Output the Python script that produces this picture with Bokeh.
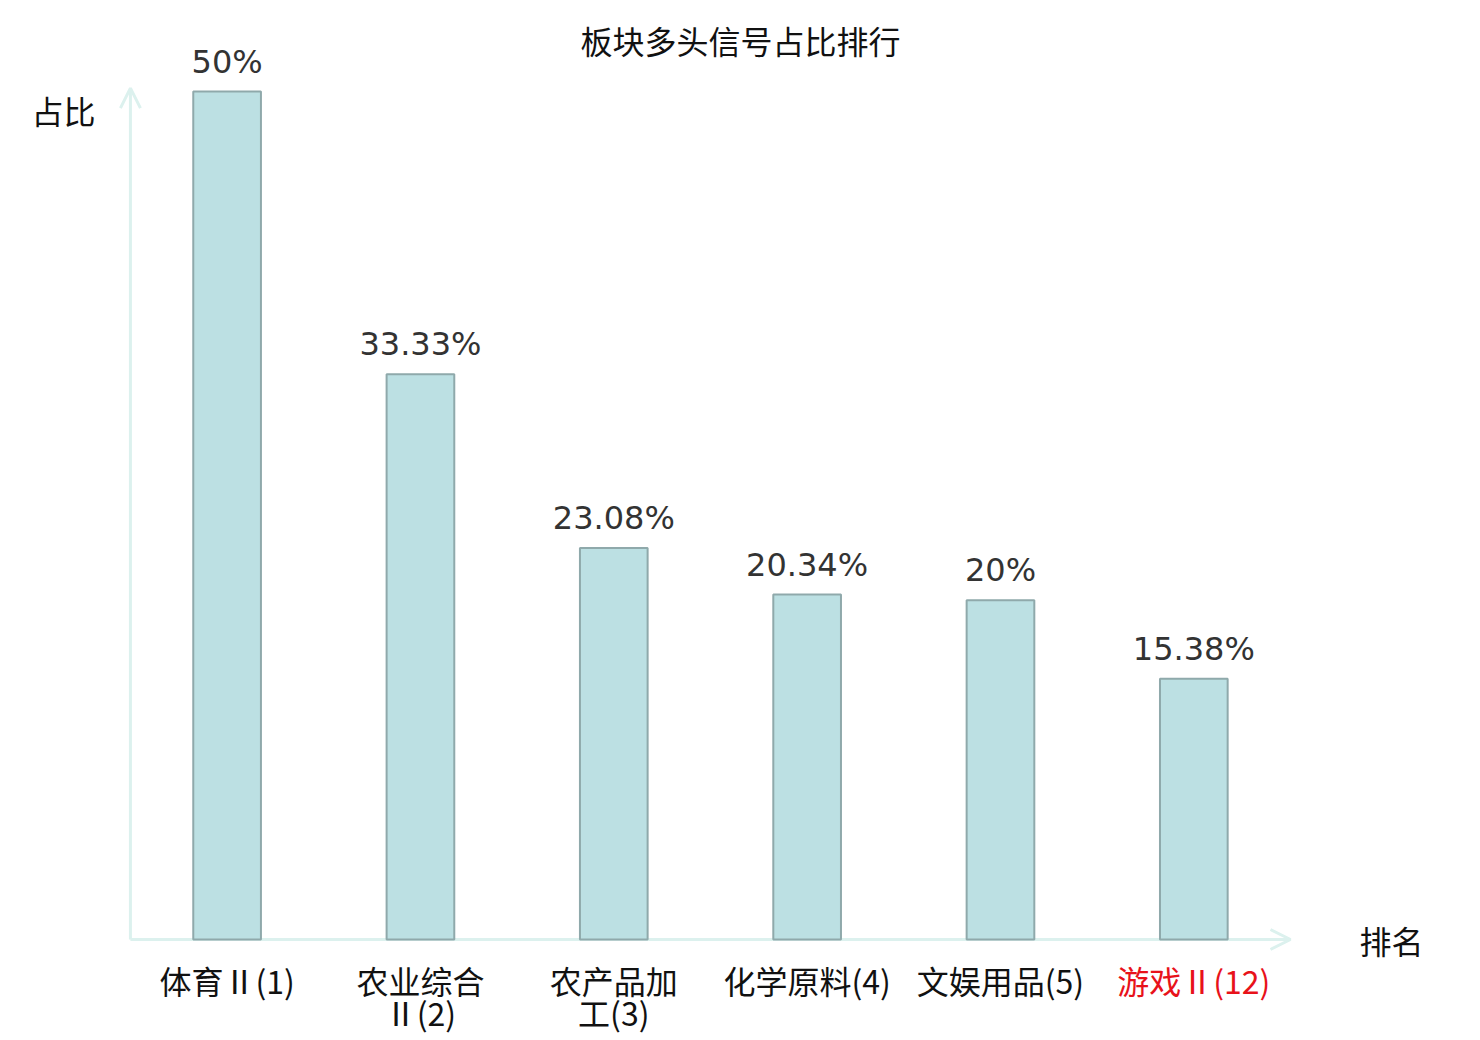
from bokeh.plotting import figure
from bokeh.models import Range1d, ColumnDataSource, LabelSet, Label, Arrow, OpenHead
from bokeh.core.properties import value
from bokeh.embed import file_html
from bokeh.resources import INLINE

# ---- data ----
categories = ["体育Ⅱ(1)", "农业综合Ⅱ(2)", "农产品加工(3)", "化学原料(4)", "文娱用品(5)", "游戏Ⅱ(12)"]
tick_line1 = ["体育Ⅱ(1)", "农业综合", "农产品加", "化学原料(4)", "文娱用品(5)", "游戏Ⅱ(12)"]
tick_line2 = ["", "Ⅱ(2)", "工(3)", "", "", ""]
tick_colors = ["#111111", "#111111", "#111111", "#111111", "#111111", "#e8121a"]
values = [50, 33.33, 23.08, 20.34, 20, 15.38]
value_labels = ["{:g}%".format(v) for v in values]
title_text = "板块多头信号占比排行"
y_label = "占比"
x_label = "排名"

CJK = "Noto Sans CJK SC"
n = len(categories)
xs = [i + 0.5 for i in range(n)]   # slot centres on the numeric x scale
Y_TOP = 50.2

p = figure(width=1464, height=1040, output_backend="svg", toolbar_location=None,
           x_range=Range1d(-0.672, 6.900), y_range=Range1d(-5.955, 55.366),
           min_border=0, min_border_left=0, min_border_right=0,
           min_border_top=0, min_border_bottom=0)
p.xaxis.visible = False
p.yaxis.visible = False
p.xgrid.visible = False
p.ygrid.visible = False
p.outline_line_color = None
p.background_fill_color = "white"
p.border_fill_color = "white"

axis_color = "#dcf1ee"
p.add_layout(Arrow(x_start=0, y_start=0, x_end=n, y_end=0, line_color=axis_color, line_width=3,
                   end=OpenHead(size=20, line_color=axis_color, line_width=3), level="underlay"))
p.add_layout(Arrow(x_start=0, y_start=0, x_end=0, y_end=Y_TOP, line_color=axis_color, line_width=3,
                   end=OpenHead(size=20, line_color=axis_color, line_width=3), level="underlay"))

src = ColumnDataSource(dict(x=xs, cat=categories, val=values, vlab=value_labels,
                            t1=tick_line1, t2=tick_line2, tcol=tick_colors, zero=[0] * n))

p.vbar(x="x", top="val", width=0.35, source=src, fill_color="#bce0e3",
       line_color="#8fa9ab", line_width=2)

p.add_layout(LabelSet(x="x", y="val", text="vlab", source=src, y_offset=19,
                      text_align="center", text_baseline="alphabetic",
                      text_font=value("DejaVu Sans"), text_font_size=value("32px"),
                      text_color=value("#333333")))

p.add_layout(LabelSet(x="x", y="zero", text="t1", source=src, y_offset=-40,
                      text_align="center", text_baseline="middle",
                      text_font=value(CJK), text_font_size=value("32px"), text_color="tcol"))
p.add_layout(LabelSet(x="x", y="zero", text="t2", source=src, y_offset=-72,
                      text_align="center", text_baseline="middle",
                      text_font=value(CJK), text_font_size=value("32px"), text_color="tcol"))

p.add_layout(Label(x=n / 2, y=Y_TOP, x_offset=30, y_offset=48, text=title_text, text_align="center",
                   text_baseline="middle", text_font=CJK, text_font_size="32px",
                   text_color="#111111"))
p.add_layout(Label(x=0, y=Y_TOP, x_offset=-67, y_offset=-22, text=y_label, text_align="center",
                   text_baseline="middle", text_font=CJK, text_font_size="32px",
                   text_color="#111111"))
p.add_layout(Label(x=n, y=0, x_offset=101, y_offset=0, text=x_label, text_align="center",
                   text_baseline="middle", text_font=CJK, text_font_size="32px",
                   text_color="#111111"))

open("out.html", "w").write(file_html(p, INLINE))
